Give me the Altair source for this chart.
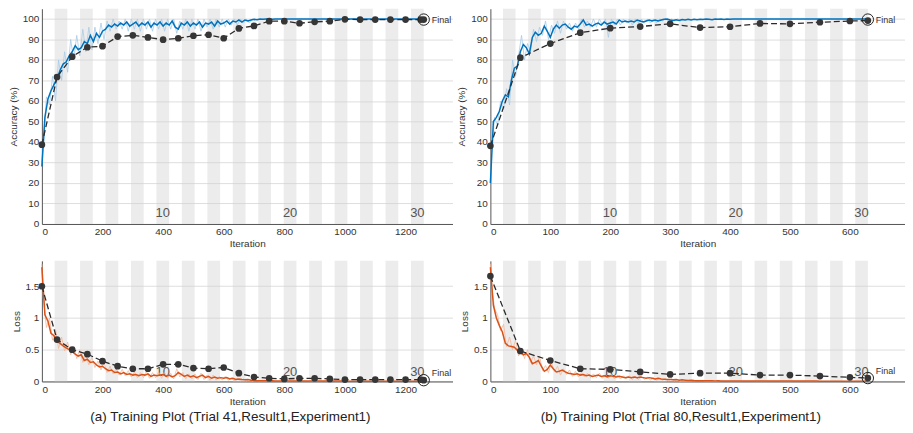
import altair as alt
import pandas as pd

FONT = "Liberation Sans"

# ---------------- structure ----------------
N_EPOCHS = 30
ITER_PER_EPOCH_A = 42
ITER_PER_EPOCH_B = 21
EPOCH_LABELS = [10, 20, 30]
CAPTION_A = "(a) Training Plot (Trial 41,Result1,Experiment1)"
CAPTION_B = "(b)  Training Plot (Trial 80,Result1,Experiment1)"

# ---------------- (a) accuracy ----------------
TRAIN_X_A = list(range(0, 1261, 10))
ACC_A = [28, 52, 61, 65, 68, 71, 75, 78, 79, 82,
         84, 87, 85, 86, 89, 88, 92, 89, 93, 91,
         94, 95, 97, 96, 97.5, 96.5, 98, 97, 98.5, 96.5,
         97.5, 98.5, 96.5, 98, 97, 98.5, 96, 98, 97, 98.5,
         96.5, 98, 97, 99, 96, 95, 98, 97, 98.5, 96.5,
         98, 97, 98.5, 96, 98, 97.5, 98.5, 96.5, 99, 97.5,
         98, 99, 97.5, 99, 98.5, 99.5, 98.5, 99.5, 99, 99.5,
         99.8, 99.6, 100, 99.8, 100, 100, 99.8, 100, 100, 100,
         100, 100, 100, 100, 100, 100, 100, 100, 100, 100,
         100, 100, 100, 100, 100, 100, 100, 100, 100, 100,
         100, 100, 100, 100, 100, 100, 100, 100, 100, 100,
         100, 100, 100, 100, 100, 100, 100, 100, 100, 100,
         100, 100, 100, 100, 100, 100, 100]
RAW_X_A = [0] + list(range(5, 706, 10))
RAW_ACC_A = [30,
             40, 62, 58, 72, 60, 80, 70, 84, 74, 90,
             80, 92, 82, 95, 84, 96, 85, 96, 88, 98,
             90, 99, 94, 100, 95, 99, 95, 100, 94, 100,
             95, 100, 94, 100, 95, 100, 94, 100, 95, 100,
             94, 100, 95, 100, 93, 99, 95, 100, 94, 100,
             95, 100, 94, 100, 96, 100, 95, 100, 96, 100,
             96, 100, 97, 100, 97, 100, 98, 100, 98, 100,
             99]
VAL_X_A = list(range(0, 1251, 50)) + [1260]
VAL_ACC_A = [38.7, 71.7, 81.6, 86.2, 86.7, 91.4, 92.0, 91.0, 89.9, 90.6,
             91.8, 92.3, 90.6, 95.4, 96.6, 98.9, 98.9, 97.9, 98.6, 98.9,
             99.8, 99.7, 99.7, 99.7, 99.7, 99.7, 99.7]
FINAL_A = 1260
FINAL_ACC_A = 99.7

# ---------------- (a) loss ----------------
LOSS_A = [1.80, 1.05, 0.95, 0.76, 0.72, 0.63, 0.60, 0.56, 0.53, 0.50,
          0.47, 0.43, 0.40, 0.42, 0.33, 0.35, 0.30, 0.31, 0.26, 0.23,
          0.24, 0.20, 0.17, 0.18, 0.14, 0.15, 0.12, 0.14, 0.11, 0.12,
          0.10, 0.11, 0.09, 0.11, 0.10, 0.12, 0.08, 0.10, 0.09, 0.10,
          0.11, 0.08, 0.10, 0.07, 0.09, 0.14, 0.11, 0.08, 0.10, 0.07,
          0.09, 0.06, 0.08, 0.10, 0.06, 0.08, 0.05, 0.07, 0.05, 0.06,
          0.05, 0.06, 0.04, 0.05, 0.03, 0.04, 0.03, 0.025, 0.03, 0.02,
          0.015, 0.012, 0.01, 0.012, 0.01, 0.008, 0.01, 0.008, 0.007, 0.008,
          0.007, 0.007, 0.007, 0.007, 0.007, 0.007, 0.007, 0.007, 0.007, 0.007,
          0.006, 0.006, 0.006, 0.006, 0.006, 0.006, 0.006, 0.006, 0.006, 0.006,
          0.005, 0.005, 0.005, 0.005, 0.005, 0.005, 0.005, 0.005, 0.005, 0.005,
          0.005, 0.005, 0.005, 0.005, 0.005, 0.005, 0.005, 0.005, 0.005, 0.005,
          0.004, 0.004, 0.004, 0.004, 0.004, 0.004, 0.004]
RAW_LOSS_A = [1.85,
              1.3, 0.85, 1.0, 0.65, 0.82, 0.52, 0.7, 0.48, 0.62, 0.42,
              0.55, 0.36, 0.5, 0.3, 0.42, 0.26, 0.38, 0.22, 0.32, 0.18,
              0.3, 0.14, 0.24, 0.12, 0.2, 0.1, 0.19, 0.09, 0.17, 0.07,
              0.15, 0.06, 0.14, 0.06, 0.16, 0.05, 0.14, 0.06, 0.15, 0.05,
              0.14, 0.05, 0.13, 0.04, 0.2, 0.07, 0.14, 0.04, 0.12, 0.04,
              0.12, 0.03, 0.13, 0.03, 0.1, 0.02, 0.1, 0.02, 0.08, 0.02,
              0.08, 0.02, 0.06, 0.01, 0.05, 0.01, 0.04, 0.01, 0.03, 0.005,
              0.02]
VAL_LOSS_A = [1.50, 0.66, 0.50, 0.43, 0.32, 0.24, 0.20, 0.20, 0.27, 0.27,
              0.21, 0.20, 0.22, 0.13, 0.07, 0.05, 0.04, 0.05, 0.05, 0.04,
              0.03, 0.03, 0.03, 0.03, 0.03, 0.03, 0.02]
FINAL_LOSS_A = 0.02

# ---------------- (b) accuracy ----------------
TRAIN_X_B = list(range(0, 631, 5))
ACC_B = [20, 50, 52, 55, 60, 63, 62, 70, 76, 77,
         84, 87.5, 86, 83, 91, 93.5, 92, 93, 96.5, 94,
         91, 95, 97, 95.5, 97, 97.5, 96, 95, 96.5, 96,
         97.5, 99.5, 97, 97.5, 96.5, 97.5, 98, 97, 98.5, 97.5,
         98, 98.5, 97.5, 99.5, 98.5, 99, 98.5, 99, 98.5, 99.5,
         99, 98.5, 99, 99.5, 99, 99.5, 99, 99.5, 99.8, 100,
         99.5, 99.2, 99.6, 99.3, 99.7, 99.5, 99.8, 99.5, 99.8, 99.6,
         99.9, 99.7, 100, 99.8, 99.6, 100, 99.8, 100, 99.7, 100,
         99.8,
         100, 100, 100, 100, 100, 100, 100, 100, 100, 100,
         100, 100, 100, 100, 100, 100, 100, 100, 100, 100,
         100, 100, 100, 100, 100, 100, 100, 100, 100, 100,
         100, 100, 100, 100, 100, 100, 100, 100, 100, 100,
         100, 100, 100, 100, 100, 100]
RAW_X_B = [0] + list(range(2, 323, 5))
RAW_ACC_B = [20,
             35, 52, 48, 60, 56, 66, 58, 80, 72, 82,
             92, 80, 88, 84, 95, 89, 96, 92, 99, 90,
             97, 93, 99, 93, 99, 95, 98, 94, 98, 95,
             100, 96, 99, 96, 100, 96, 100, 97, 100, 91,
             100, 97, 100, 97, 100, 98, 100, 97, 100, 98,
             100, 98, 100, 98, 100, 98, 100, 99, 100, 99,
             100, 99, 100, 99, 100]
VAL_X_B = list(range(0, 601, 50)) + [630]
VAL_ACC_B = [38.1, 81.1, 88.0, 93.3, 95.5, 96.3, 97.6, 95.8, 96.2, 97.8,
             97.6, 98.4, 99.0, 99.2]
FINAL_B = 630
FINAL_ACC_B = 99.7

# ---------------- (b) loss ----------------
LOSS_B = [1.80, 1.20, 1.00, 0.88, 0.78, 0.60, 0.56, 0.55, 0.54, 0.49,
          0.46, 0.42, 0.44, 0.38, 0.28, 0.30, 0.33, 0.24, 0.16, 0.19,
          0.26, 0.20, 0.15, 0.16, 0.18, 0.15, 0.13, 0.12, 0.11, 0.12,
          0.10, 0.11, 0.09, 0.10, 0.08, 0.09, 0.10, 0.08, 0.09, 0.07,
          0.09, 0.08, 0.07, 0.08, 0.07, 0.06, 0.07, 0.06, 0.07, 0.06,
          0.07, 0.06, 0.05, 0.06, 0.05, 0.04, 0.05, 0.04, 0.035, 0.03,
          0.03, 0.025, 0.03, 0.02, 0.025, 0.02, 0.015, 0.02, 0.015, 0.012,
          0.012, 0.01, 0.012, 0.01, 0.01, 0.009, 0.01, 0.008, 0.009, 0.008,
          0.008, 0.008, 0.008, 0.008, 0.008, 0.008, 0.008, 0.008, 0.008, 0.008,
          0.007, 0.007, 0.007, 0.007, 0.007, 0.007, 0.007, 0.007, 0.007, 0.007,
          0.006, 0.006, 0.006, 0.006, 0.006, 0.006, 0.006, 0.006, 0.006, 0.006,
          0.005, 0.005, 0.005, 0.005, 0.005, 0.005, 0.005, 0.005, 0.005, 0.005,
          0.005, 0.005, 0.005, 0.005, 0.005, 0.005, 0.005]
RAW_LOSS_B = [1.85,
              1.5, 1.15, 1.05, 0.8, 0.9, 0.55, 0.7, 0.5, 0.65, 0.4,
              0.52, 0.36, 0.5, 0.3, 0.4, 0.26, 0.4, 0.17, 0.25, 0.14,
              0.3, 0.15, 0.24, 0.1, 0.2, 0.11, 0.18, 0.08, 0.16, 0.07,
              0.14, 0.07, 0.13, 0.06, 0.12, 0.06, 0.13, 0.05, 0.11, 0.05,
              0.11, 0.04, 0.1, 0.04, 0.09, 0.04, 0.09, 0.03, 0.08, 0.03,
              0.08, 0.03, 0.07, 0.02, 0.06, 0.02, 0.05, 0.02, 0.04, 0.01,
              0.04, 0.01, 0.03, 0.01, 0.02]
VAL_LOSS_B = [1.66, 0.48, 0.33, 0.20, 0.19, 0.15, 0.11, 0.13, 0.13, 0.10,
              0.10, 0.085, 0.065, 0.053]
FINAL_LOSS_B = 0.053

ACC_TICKS = list(range(0, 101, 10))
LOSS_TICKS = [0, 0.5, 1, 1.5]
XTICKS_A = list(range(0, 1201, 200))
XTICKS_B = list(range(0, 601, 100))

BLUE = "#0072BD"
LIGHT_BLUE = "#a7cbe9"
ORANGE = "#D95319"
LIGHT_ORANGE = "#f3b79c"

W_A, W_B = 412, 416
H_TOP, H_BOT = 216, 121


def panel(train_x, train_y, raw_x, raw_y, val_x, val_y, final_x, final_y,
          color, raw_color, ydom, yticks, yfmt, ytitle, xdom, xticks, width, height,
          ipe, label_y, final_dy):
    X = alt.X("x:Q", scale=alt.Scale(domain=xdom, nice=False, zero=False),
              axis=alt.Axis(values=xticks, title="Iteration", grid=False, ticks=False,
                            format="d", labelPadding=3, titlePadding=2,
                            domainColor="#555555"))
    Y = alt.Y("y:Q", scale=alt.Scale(domain=ydom, nice=False, zero=False),
              axis=alt.Axis(values=yticks, title=ytitle, grid=True, gridColor="#dedede",
                            ticks=False, labelPadding=3, titlePadding=4, format=yfmt,
                            domainColor="#555555"))
    bands = pd.DataFrame({"x": [ipe * (2 * k - 1) for k in range(1, N_EPOCHS // 2 + 1)],
                          "x2": [ipe * 2 * k for k in range(1, N_EPOCHS // 2 + 1)]})
    labels = pd.DataFrame({"x": [ipe * (e - 0.5) for e in EPOCH_LABELS],
                           "y": [label_y] * len(EPOCH_LABELS),
                           "t": [str(e) for e in EPOCH_LABELS]})
    train = pd.DataFrame({"x": train_x, "y": train_y})
    raw = pd.DataFrame(list(zip(raw_x, raw_y)), columns=["x", "y"])
    val = pd.DataFrame(list(zip(val_x, val_y)), columns=["x", "y"])
    fin = pd.DataFrame({"x": [final_x], "y": [final_y]})

    l_bands = alt.Chart(bands).mark_rect(color="#d2d2d2", opacity=0.42).encode(
        x=X, x2="x2:Q", y=alt.value(0), y2=alt.value(height))
    l_text = alt.Chart(labels).mark_text(font=FONT, fontSize=13, color="#555555",
                                         baseline="middle").encode(x=X, y=Y, text="t:N")
    l_raw = alt.Chart(raw).mark_line(color=raw_color, strokeWidth=0.8).encode(x=X, y=Y)
    l_train = alt.Chart(train).mark_line(color=color, strokeWidth=1.5).encode(x=X, y=Y)
    l_val = alt.Chart(val).mark_line(color="#2b2b2b", strokeDash=[6, 3],
                                     strokeWidth=1.3).encode(x=X, y=Y)
    l_pts = alt.Chart(val).mark_circle(color="#363636", size=45, opacity=1).encode(x=X, y=Y)
    l_fin = alt.Chart(fin).mark_point(shape="circle", filled=False, color="#222222",
                                      size=130, strokeWidth=1, opacity=1).encode(x=X, y=Y)
    l_fin_t = alt.Chart(fin).mark_text(text="Final", font=FONT, fontSize=9, align="left",
                                       dx=8, dy=final_dy, color="#333333").encode(x=X, y=Y)
    return alt.layer(l_bands, l_text, l_raw, l_train, l_val, l_pts, l_fin, l_fin_t).properties(
        width=width, height=height)


acc_a = panel(TRAIN_X_A, ACC_A, RAW_X_A, RAW_ACC_A, VAL_X_A, VAL_ACC_A, FINAL_A, FINAL_ACC_A,
              BLUE, LIGHT_BLUE, [0, 105], ACC_TICKS, "d", "Accuracy (%)", [0, 1355], XTICKS_A,
              W_A, H_TOP, ITER_PER_EPOCH_A, 5.5, 0)
loss_a = panel(TRAIN_X_A, LOSS_A, RAW_X_A, RAW_LOSS_A, VAL_X_A, VAL_LOSS_A, FINAL_A, FINAL_LOSS_A,
               ORANGE, LIGHT_ORANGE, [0, 1.9], LOSS_TICKS, "~r", "Loss", [0, 1355], XTICKS_A,
               W_A, H_BOT, ITER_PER_EPOCH_A, 0.15, -7)
acc_b = panel(TRAIN_X_B, ACC_B, RAW_X_B, RAW_ACC_B, VAL_X_B, VAL_ACC_B, FINAL_B, FINAL_ACC_B,
              BLUE, LIGHT_BLUE, [0, 105], ACC_TICKS, "d", "Accuracy (%)", [0, 692], XTICKS_B,
              W_B, H_TOP, ITER_PER_EPOCH_B, 5.5, 0)
loss_b = panel(TRAIN_X_B, LOSS_B, RAW_X_B, RAW_LOSS_B, VAL_X_B, VAL_LOSS_B, FINAL_B, FINAL_LOSS_B,
               ORANGE, LIGHT_ORANGE, [0, 1.9], LOSS_TICKS, "~r", "Loss", [0, 692], XTICKS_B,
               W_B, H_BOT, ITER_PER_EPOCH_B, 0.15, -7)


def caption(text):
    return alt.TitleParams(text=text, orient="bottom", anchor="middle", frame="bounds",
                           fontSize=13.5, fontWeight="normal", font=FONT, color="#222222",
                           offset=4)


col_a = alt.vconcat(acc_a, loss_a, spacing=12).properties(title=caption(CAPTION_A))
col_b = alt.vconcat(acc_b, loss_b, spacing=12).properties(title=caption(CAPTION_B))

chart = alt.hconcat(col_a, col_b, spacing=4).properties(padding=0).configure_view(
    stroke=None
).configure_axis(
    labelFont=FONT, titleFont=FONT, labelFontSize=10, titleFontSize=10,
    titleFontWeight="normal", labelColor="#333333", titleColor="#333333"
).configure_concat(spacing=4)

chart.save("out.html", embed_options={"renderer": "svg", "actions": False})
